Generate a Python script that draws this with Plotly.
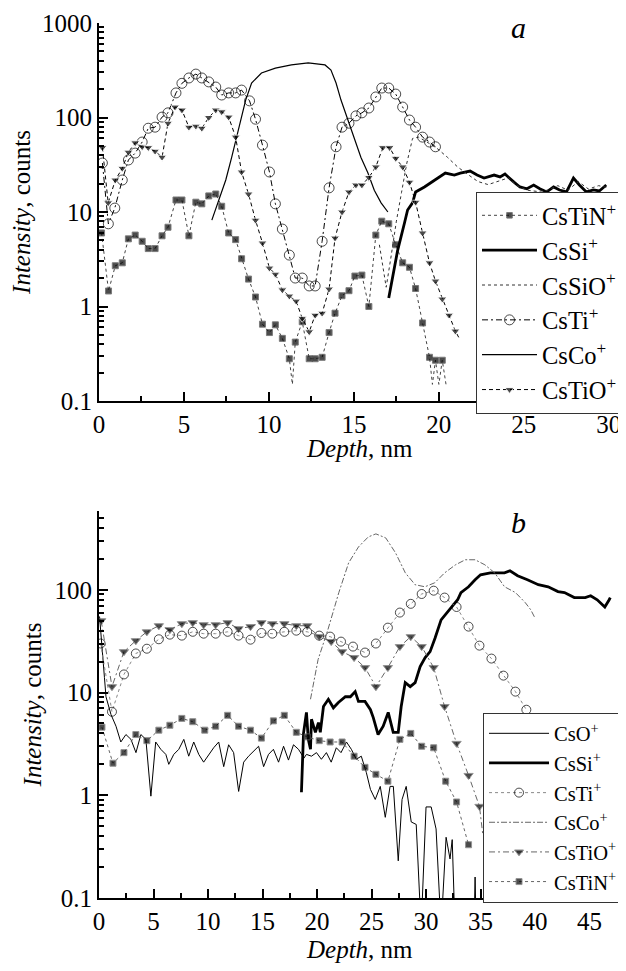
import plotly.graph_objects as go

# ---------------- Panel a data ----------------
tin_a_x = [0.15,0.56,0.96,1.37,1.73,2.13,2.54,2.9,3.3,3.71,4.06,4.53,4.88,5.29,5.7,6.05,6.46,6.87,7.22,7.63,8.04,8.39,8.8,9.21,9.62,10.03,10.38,10.79,11.2,11.55,11.96,12.37,12.72,13.13,13.54,13.89,14.3,14.71,15.06,15.47,15.88,16.29,16.64,17.05,17.46,17.87,18.27,18.63,19.04,19.45,19.8,20.2]
tin_a_y = [6.0,1.46,2.7,2.9,5.2,5.7,4.9,4.1,4.1,5.6,6.9,13.4,13.4,5.6,12.7,12.2,14.8,15.5,11.5,6.0,5.1,3.2,1.95,1.26,0.65,0.53,0.64,0.46,0.28,0.42,0.69,0.28,0.28,0.29,0.53,0.85,1.3,1.47,2.1,2.15,1.0,5.7,8.0,7.5,4.5,2.9,2.6,1.55,0.67,0.29,0.27,0.27]
tin_a_ex_x = [11.38,19.62,20.0,20.42]
tin_a_ex_y = [0.15,0.15,0.15,0.15]

si_a_x = [17.05,17.4,17.57,17.98,18.16,18.45,18.63,19.15,19.91,20.38,20.91,21.26,21.84,22.25,22.66,23.25,23.6,23.89,24.42,24.77,25.18,25.58,25.94,26.35,26.75,27.1,27.51,27.92,28.27,28.68,29.1,29.44,29.85]
si_a_y = [1.23,2.6,3.9,7.7,10.5,12.5,16.3,18.4,22.9,25.8,24.6,25.8,27.1,24.6,22.9,24.6,23.5,25.2,20.7,18.4,17.6,19.3,17.6,16.3,18.4,17.1,16.3,22.9,19.3,16.3,17.1,16.7,19.3]

sio_a_x = [16.5,16.9,17.2,17.5,17.8,18.1,18.45,18.8,19.3,19.9,20.5,21.1,21.7,22.3,22.9,23.5,24.1,24.6,25.2,25.8,26.4,27.0,27.6,28.2,28.8,29.4,30.0]
sio_a_y = [4.5,1.6,3.5,8,16,32,60,62,55,47,38,30,25,21,19.5,21,23,19,17,16.5,17,19,17,21,17.5,19,18]

ti_a_x = [0.2,0.55,0.93,1.37,1.73,2.13,2.54,2.9,3.3,3.71,4.06,4.53,4.88,5.29,5.7,6.05,6.46,6.87,7.22,7.63,8.04,8.39,8.86,9.21,9.62,10.03,10.38,10.79,11.2,11.55,11.96,12.37,12.72,13.13,13.54,13.95,14.3,14.71,15.12,15.47,15.88,16.29,16.64,17.05,17.46,17.87,18.27,18.63,19.04,19.45,19.8]
ti_a_y = [33,7.5,11,21.8,35.5,42,55,77,79,101,112,182,230,262,288,262,238,210,173,182,182,195,150,96,51,26.5,12.2,6.6,3.5,2.0,2.0,1.65,1.65,4.9,18,49,79,87,104,112,126,165,205,205,177,129,94,79,62,55,49]

co_a_x = [6.64,7.05,7.46,7.81,8.22,8.63,8.98,9.56,10.38,11.32,12.31,13.3,13.65,13.95,14.24,14.65,15.06,15.41,15.82,16.2,16.6,17.0]
co_a_y = [8.2,13.4,21.8,38,79,153,232,296,333,360,378,360,318,232,153,94,58,38,26,17,12.5,10]

tio_a_x = [0.2,0.54,0.96,1.37,1.73,2.13,2.54,2.9,3.3,3.71,4.06,4.47,4.88,5.29,5.7,6.05,6.46,6.87,7.22,7.63,8.04,8.39,8.8,9.21,9.62,10.03,10.38,10.79,11.2,11.6,11.96,12.37,12.72,13.13,13.54,13.89,14.3,14.71,15.12,15.47,15.88,16.29,16.7,17.1,17.46,17.87,18.27,18.63,19.04,19.45,19.8,20.2,20.6,20.97]
tio_a_y = [48,12.5,21.8,29,43,54,49,48,44,38,87,129,120,79,81,77,100,120,115,101,62,26.5,15.5,8.2,4.7,2.55,2.2,1.5,1.29,1.14,0.75,0.54,0.81,0.85,1.53,5.3,10,16.3,19.3,19.3,23.2,30,48,48,37,30,20.7,12.7,6.0,2.9,1.86,1.2,0.81,0.55]
tio_a_ex_x = [21.2]
tio_a_ex_y = [0.46]

# ---------------- Panel b data ----------------
o_b_x = [0.05,0.3,0.5,0.64,1.1,1.56,2.0,2.47,2.93,3.39,3.84,4.3,4.76,5.2,5.67,6.13,6.4,6.86,7.32,7.78,8.23,8.69,9.15,9.6,10.06,10.52,10.98,11.44,11.89,12.35,12.81,13.27,13.72,14.18,14.64,15.1,15.55,16.0,16.47,16.93,17.38,17.84,18.3,18.8,19.03,19.49,19.95,20.4,20.86,21.3,21.77,22.2,22.7,23.15,23.6,24.06,24.52,24.9,25.34,25.8,26.26,26.7,27.0,27.45,27.8,28.18,28.64,29.1,29.55,30.0,30.47,30.92,31.38,31.84,32.2,32.4,32.66,33.5,34.4,34.5,34.6]
o_b_y = [55,28,14,9.1,6.1,4.7,3.3,3.9,3.5,2.6,3.9,3.5,0.98,3.3,2.8,2.5,2.0,2.5,2.8,3.5,2.4,3.3,2.5,2.1,2.5,2.9,3.3,1.9,3.1,2.6,1.09,2.1,2.4,2.7,3.0,1.9,2.5,2.8,2.1,3.0,2.2,3.1,2.8,2.3,2.5,2.4,2.6,2.24,2.6,2.1,2.9,2.6,3.3,2.8,2.24,2.4,1.67,1.14,0.91,1.22,0.61,1.22,1.22,0.23,0.91,1.22,0.55,0.52,0.05,0.77,0.77,0.47,0.05,0.39,0.24,0.37,0.05,0.05,0.05,0.16,0.05]

si_b_x = [18.57,18.76,19.03,19.2,19.4,19.49,19.85,20.13,20.3,20.59,21.04,21.5,21.96,22.6,23.06,23.5,23.8,24.4,24.9,25.16,25.6,26.07,26.53,26.99,27.45,27.72,28.09,28.55,29.0,29.46,29.92,30.37,30.83,31.38,32.3,32.9,33.2,33.9,34.5,35.0,35.9,36.6,37.2,37.7,38.4,39.3,40.3,41.2,42.1,42.7,43.6,44.6,45.1,45.7,46.4,46.8,46.9]
si_b_y = [1.07,4,6.4,3.5,2.8,5.5,4.1,5.1,4.1,7.3,8.6,7.1,8.0,9.1,9.1,10.2,8.2,8.2,6.8,5.7,3.9,4.7,6.4,4.1,4.1,7.3,12.5,11.4,12.5,17.9,21.9,25,34,51,67,80,94,107,125,140,146,146,146,153,137,125,112,107,96,94,84,84,87.5,80,68,80,84]

ti_b_x = [0.15,1.19,2.29,3.38,4.39,5.49,6.5,7.6,8.6,9.6,10.7,11.8,12.8,13.9,14.9,15.9,17.0,18.1,19.1,20.2,21.2,22.2,23.3,24.4,25.4,26.5,27.6,28.6,29.6,30.7,31.7,32.8,33.9,34.9,36.0,37.1,38.2,39.2]
ti_b_y = [30,6.5,15,24,26.7,33,36.6,35.8,39,37.4,37.4,39,35.8,32.7,38,37.4,39,40,39,35.8,35,31.3,28,24.5,30,42.8,60,73,91,98,84,68,43.8,28.6,21.4,14.6,10.2,6.8]

co_b_x = [19.4,20.1,21.0,22.0,22.9,23.8,24.7,25.4,26.3,27.2,28.1,29.0,29.9,30.8,31.7,32.7,33.6,34.5,35.4,36.3,37.2,38.2,39.1,39.6,40.0]
co_b_y = [8.6,21,41,94,183,261,327,350,320,229,146,112,107,117,146,175,196,196,175,146,107,94,75,64,53]

tio_b_x = [0.2,1.19,2.29,3.38,4.39,5.49,6.5,7.6,8.6,9.6,10.7,11.8,12.8,13.9,14.9,15.9,17.0,18.1,19.1,20.2,21.3,22.3,23.4,24.4,25.4,26.5,27.6,28.6,29.6,30.7,31.7,32.8,33.9,34.9]
tio_b_y = [50,11.4,25,32,39,44.7,40.9,46.8,47.9,45.7,45.7,47.9,41.8,43.8,47.9,46.8,46.8,44.7,44.7,35,31.3,25,21.9,17.5,11.4,17.5,28,35,28,17.5,7.3,3.2,1.56,0.78]
tio_b_ex_x = [35.2]
tio_b_ex_y = [0.42]

tin_b_x = [0.27,1.28,2.29,3.38,4.39,5.49,6.5,7.6,8.6,9.7,10.7,11.8,12.8,13.9,14.9,16.0,17.0,18.1,19.1,20.2,21.2,22.3,23.4,24.4,25.4,26.5,27.6,28.6,29.6,30.7,31.8,32.8,33.9]
tin_b_y = [4.6,2.05,2.6,3.9,3.4,4.3,4.8,5.6,5.2,4.3,4.7,6.0,4.7,4.3,3.6,5.3,6.0,4.1,3.7,3.4,3.3,3.3,2.4,1.87,1.6,1.37,3.5,4.0,3.0,2.9,1.37,0.86,0.33]

y_tick_vals_a = [0.1, 1, 10, 100, 1000]
y_tick_text_a = ["0.1", "1", "10", "100", "1000"]
y_tick_vals_b = [0.1, 1, 10, 100]
y_tick_text_b = ["0.1", "1", "10", "100"]

legend_a = ["CsTiN<sup>+</sup>", "CsSi<sup>+</sup>", "CsSiO<sup>+</sup>", "CsTi<sup>+</sup>", "CsCo<sup>+</sup>", "CsTiO<sup>+</sup>"]
legend_b = ["CsO<sup>+</sup>", "CsSi<sup>+</sup>", "CsTi<sup>+</sup>", "CsCo<sup>+</sup>", "CsTiO<sup>+</sup>", "CsTiN<sup>+</sup>"]

x_title = "<i>Depth</i>, nm"
y_title = "<i>Intensity</i>, counts"

FONT = "Liberation Serif, Times New Roman, serif"


def merged(mx, my, ex=(), ey=()):
    pts = [(x, y, True) for x, y in zip(mx, my)] + [(x, y, False) for x, y in zip(ex, ey)]
    pts.sort(key=lambda p: p[0])
    return [p[0] for p in pts], [p[1] for p in pts], [p[2] for p in pts]


def add(fig, name, x, y, xa, ya, leg, line, marker=None, ex=(), ey=()):
    xs, ys, flags = merged(x, y, ex, ey)
    kw = dict(x=xs, y=ys, name=name, xaxis=xa, yaxis=ya, legend=leg, line=line,
              mode="lines+markers" if marker else "lines")
    if marker:
        m = dict(marker)
        size = m.pop("size")
        m["size"] = [size if f else 0 for f in flags]
        kw["marker"] = m
    fig.add_trace(go.Scatter(**kw))


fig = go.Figure()
# panel a
add(fig, legend_a[0], tin_a_x, tin_a_y, "x", "y", "legend",
    dict(color="#444", width=1, dash="dot"),
    dict(symbol="square", size=6, color="black"), tin_a_ex_x, tin_a_ex_y)
add(fig, legend_a[1], si_a_x, si_a_y, "x", "y", "legend", dict(color="black", width=2.8))
add(fig, legend_a[2], sio_a_x, sio_a_y, "x", "y", "legend", dict(color="#333", width=1, dash="dot"))
add(fig, legend_a[3], ti_a_x, ti_a_y, "x", "y", "legend",
    dict(color="black", width=1, dash="6px,3px,2px,3px"),
    dict(symbol="circle-open", size=10, color="black", line=dict(width=1, color="black")))
add(fig, legend_a[4], co_a_x, co_a_y, "x", "y", "legend", dict(color="black", width=1.2))
add(fig, legend_a[5], tio_a_x, tio_a_y, "x", "y", "legend",
    dict(color="black", width=1, dash="4px,3px"),
    dict(symbol="triangle-down", size=8, color="black"), tio_a_ex_x, tio_a_ex_y)

# panel b
add(fig, legend_b[0], o_b_x, o_b_y, "x2", "y2", "legend2", dict(color="black", width=1))
add(fig, legend_b[1], si_b_x, si_b_y, "x2", "y2", "legend2", dict(color="black", width=2.8))
add(fig, legend_b[2], ti_b_x, ti_b_y, "x2", "y2", "legend2",
    dict(color="#888", width=1, dash="dot"),
    dict(symbol="circle-open", size=9, color="black", line=dict(width=1, color="black")))
add(fig, legend_b[3], co_b_x, co_b_y, "x2", "y2", "legend2",
    dict(color="#666", width=1, dash="6px,2px,2px,2px"))
add(fig, legend_b[4], tio_b_x, tio_b_y, "x2", "y2", "legend2",
    dict(color="#666", width=1, dash="6px,3px,2px,3px"),
    dict(symbol="triangle-down", size=8, color="black"), tio_b_ex_x, tio_b_ex_y)
add(fig, legend_b[5], tin_b_x, tin_b_y, "x2", "y2", "legend2",
    dict(color="#666", width=1, dash="dot"),
    dict(symbol="square", size=6, color="black"))

minor_vals = [k * 10 ** e for e in range(-1, 3) for k in range(2, 10)]

TXT = dict(family=FONT, size=25, color="black")
xcommon = dict(showline=True, linewidth=2, linecolor="black", showgrid=False, zeroline=False,
               ticks="inside", ticklen=9, tickwidth=1.5, tickcolor="black",
               tick0=0, dtick=5,
               minor=dict(ticks="inside", ticklen=5, tickwidth=1.5, tickcolor="black", dtick=2.5, showgrid=False),
               tickfont=TXT)
ycommon = dict(type="log", showline=True, linewidth=2, linecolor="black", showgrid=False, zeroline=False,
               ticks="inside", ticklen=9, tickwidth=1.5, tickcolor="black",
               minor=dict(ticks="inside", ticklen=5, tickwidth=1.5, tickcolor="black", tickvals=minor_vals, showgrid=False),
               tickfont=TXT,
               title=dict(text=y_title, font=TXT, standoff=6))

legcommon = dict(bgcolor="white", bordercolor="#333", borderwidth=1,
                 xanchor="left", yanchor="top", tracegroupgap=0)


def ann(text, x, y, size=25):
    return dict(text=text, xref="paper", yref="paper", x=x, y=y, showarrow=False,
                font=dict(family=FONT, size=size, color="black"), xanchor="center", yanchor="middle")


# page has an 8px body margin: figure is drawn from (8, 8)
fig.update_layout(
    width=618, height=963,
    font=TXT,
    margin=dict(l=91, r=3, t=15, b=73),
    paper_bgcolor="white", plot_bgcolor="white",
    xaxis=dict(xcommon, domain=[0, 1], anchor="y", range=[0, 30.6]),
    yaxis=dict(ycommon, domain=[0.568, 1], anchor="x", range=[-1, 3],
               tickvals=y_tick_vals_a, ticktext=y_tick_text_a),
    xaxis2=dict(xcommon, domain=[0, 1], anchor="y2", range=[0, 47.7]),
    yaxis2=dict(ycommon, domain=[0, 0.4423], anchor="x2", range=[-1, 2.767],
                tickvals=y_tick_vals_b, ticktext=y_tick_text_b),
    legend=dict(legcommon, x=0.725, y=0.807, itemwidth=55,
                font=dict(family=FONT, size=24.5, color="black")),
    legend2=dict(legcommon, x=0.7385, y=0.212, itemwidth=60,
                 font=dict(family=FONT, size=20.5, color="black")),
    showlegend=True,
    annotations=[
        ann("<i>a</i>", 0.807, 0.995, 30),
        ann("<i>b</i>", 0.807, 0.4286, 30),
        ann(x_title, 0.5, 0.514),
        ann(x_title, 0.5, -0.0594),
    ],
)

fig.write_html("out.html")
